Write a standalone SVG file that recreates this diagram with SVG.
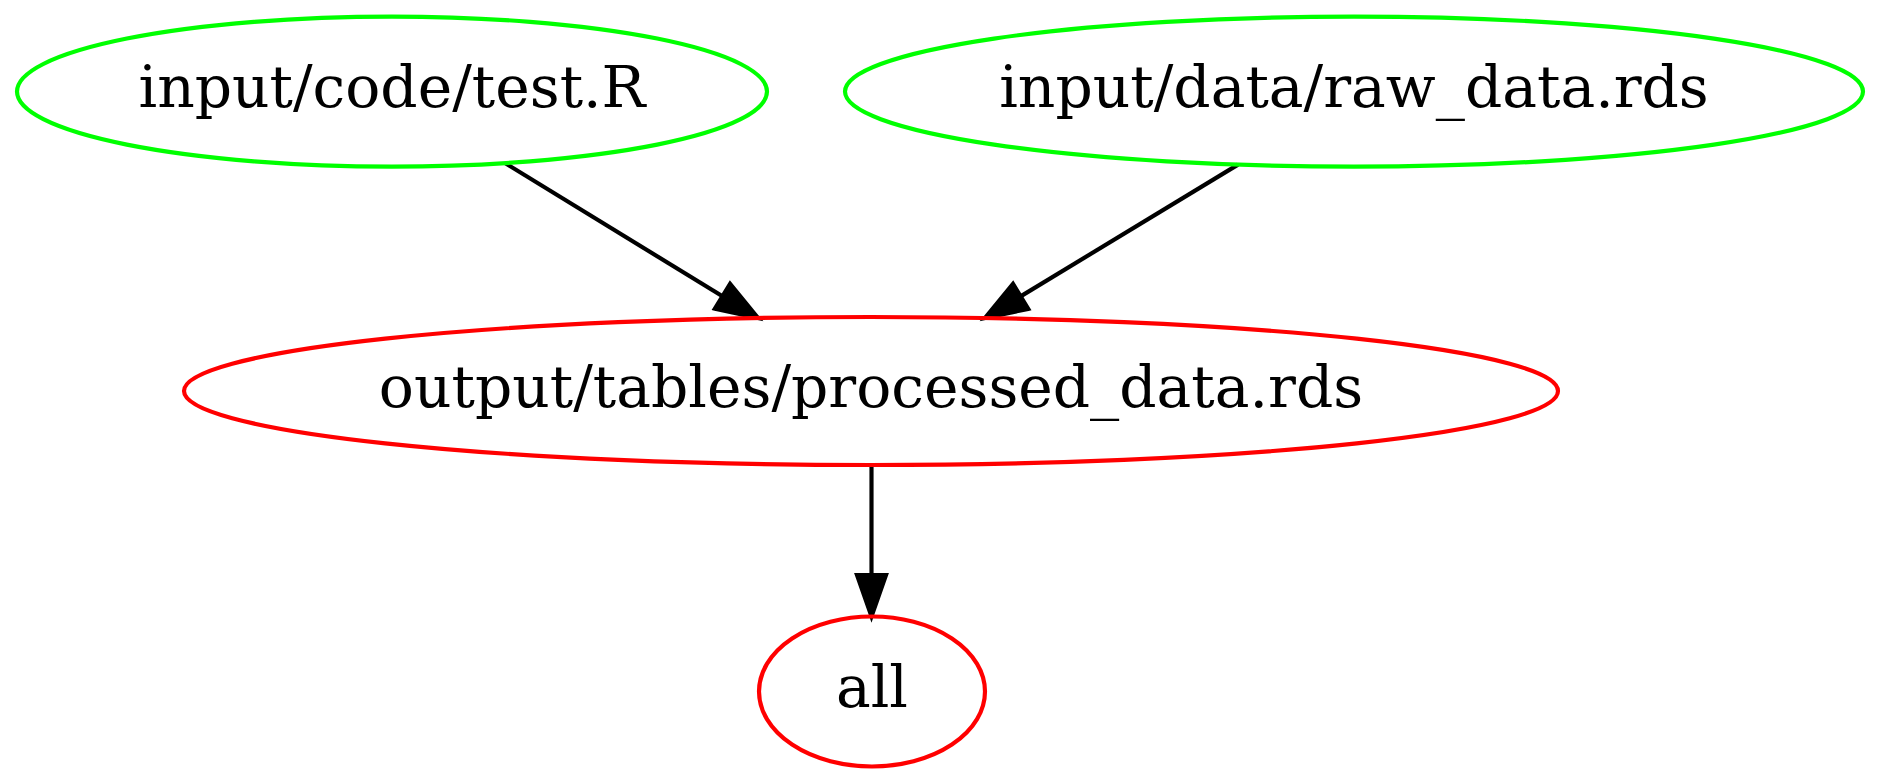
<svg xmlns="http://www.w3.org/2000/svg" width="1881" height="783" viewBox="0 0 1881 783">
<style>
.node ellipse{fill:none;stroke-width:4.165}
.g ellipse{stroke:#00ff00}
.r ellipse{stroke:#ff0000}
text{font-family:"DejaVu Serif","Liberation Serif",serif;font-size:58.3px;fill:#000;text-anchor:middle}
.edges line{stroke:#000;stroke-width:4.165;fill:none}
.edges polygon{fill:#000;stroke:#000;stroke-width:4.165}
</style>
<rect width="1881" height="783" fill="#fff"/>
<g class="edges" id="edges">
<line x1="505" y1="163" x2="722.5" y2="296.3"/>
<polygon points="714.9,308.7 758,318 730.1,283.8"/>
<line x1="1238" y1="164.6" x2="1020.6" y2="296.4"/>
<polygon points="1028.2,308.9 985,318 1013,283.9"/>
<line x1="871.5" y1="465" x2="871.5" y2="575"/>
<polygon points="857,575 871.5,616.5 886,575"/>
</g>
<g id="node-test" class="node g">
<ellipse cx="392" cy="91.6" rx="375" ry="75"/>
<text x="392" y="107.3">input/code/test.R</text>
</g>
<g id="node-raw" class="node g">
<ellipse cx="1354" cy="91.6" rx="509" ry="75"/>
<text x="1354" y="107.3">input/data/raw_data.rds</text>
</g>
<g id="node-processed" class="node r">
<ellipse cx="871" cy="391" rx="687" ry="74"/>
<text x="871" y="406.7">output/tables/processed_data.rds</text>
</g>
<g id="node-all" class="node r">
<ellipse cx="872" cy="691.5" rx="113" ry="75"/>
<text x="872" y="707">all</text>
</g>
</svg>
